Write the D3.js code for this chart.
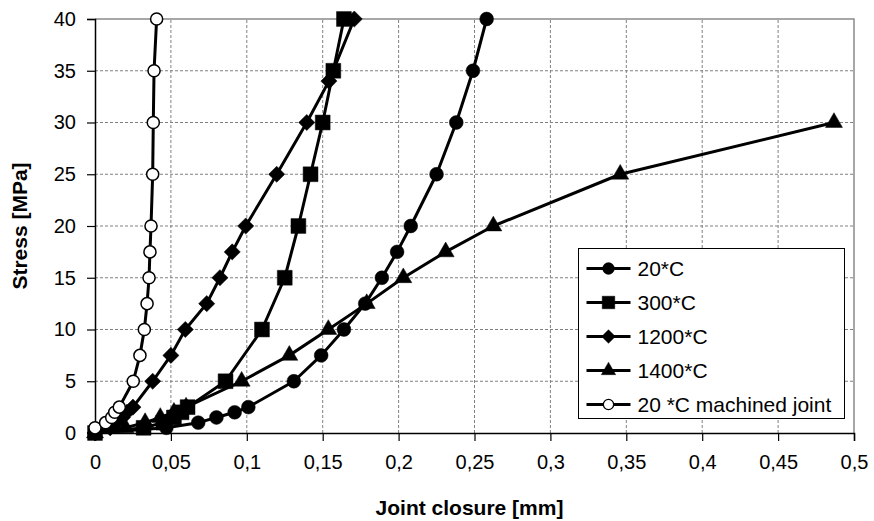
<!DOCTYPE html>
<html>
<head>
<meta charset="utf-8">
<script src="https://cdn.jsdelivr.net/npm/d3@7"></script>
<style>
  body { margin: 0; background: #fff; }
  text { font-family: "Liberation Sans", Arial, sans-serif; }
</style>
</head>
<body>
<div id="chart"></div>
<script>
// Data: stress [MPa] vs joint closure [mm]
var stress20 = [0, 0.5, 1, 1.5, 2, 2.5, 5, 7.5, 10, 12.5, 15, 17.5, 20, 25, 30, 35, 40];
var closure20 = [0, 0.047, 0.068, 0.080, 0.092, 0.101, 0.131, 0.149, 0.164, 0.178, 0.189, 0.199, 0.208, 0.225, 0.238, 0.249, 0.258];

var stress300 = [0, 0.5, 1, 1.5, 2, 2.5, 5, 10, 15, 20, 25, 30, 35, 40];
var closure300 = [0, 0.032, 0.045, 0.052, 0.057, 0.061, 0.086, 0.110, 0.125, 0.134, 0.142, 0.150, 0.157, 0.164];

var stress1200 = [0, 0.5, 1, 1.5, 2, 2.5, 5, 7.5, 10, 12.5, 15, 17.5, 20, 25, 30, 34, 40];
var closure1200 = [0, 0.010, 0.014, 0.018, 0.021, 0.025, 0.038, 0.050, 0.0595, 0.0736, 0.0823, 0.0904, 0.0993, 0.1197, 0.1395, 0.1541, 0.1708];

var stress1400 = [0, 0.5, 1, 1.5, 2, 2.5, 5, 7.5, 10, 12.5, 15, 17.5, 20, 25, 30];
var closure1400 = [0, 0.020, 0.033, 0.043, 0.052, 0.060, 0.0966, 0.128, 0.1537, 0.179, 0.2031, 0.231, 0.2624, 0.346, 0.4868];

var stressMach = [0.5, 1, 1.5, 2, 2.5, 5, 7.5, 10, 12.5, 15, 17.5, 20, 25, 30, 35, 40];
var closureMach = [0, 0.007, 0.011, 0.013, 0.016, 0.0252, 0.0296, 0.0325, 0.0343, 0.0356, 0.0362, 0.0369, 0.038, 0.0384, 0.0389, 0.0406];

var seriesNames = ["20*C", "300*C", "1200*C", "1400*C", "20 *C machined joint"];
var xTicks = [0, 0.05, 0.1, 0.15, 0.2, 0.25, 0.3, 0.35, 0.4, 0.45, 0.5];
var yTicks = [0, 5, 10, 15, 20, 25, 30, 35, 40];

var width = 874;
var height = 521;
var margin = { top: 19, right: 20, bottom: 88, left: 95 };

var svg = d3.select("#chart")
    .append("svg")
    .attr("width", width)
    .attr("height", height);

svg.append("rect").attr("width", width).attr("height", height).attr("fill", "#fff");

var x = d3.scaleLinear()
    .domain([0, 0.5])
    .range([margin.left, width - margin.right]);

var y = d3.scaleLinear()
    .domain([0, 40])
    .range([height - margin.bottom, margin.top]);

var comma = d3.formatLocale({ decimal: ",", thousands: ".", grouping: [3], currency: ["", ""] }).format("~g");

// gridlines (dashed grey)
svg.append("g")
    .selectAll("line")
    .data(xTicks.slice(1, -1))
    .enter().append("line")
    .attr("x1", function(d) { return x(d); })
    .attr("x2", function(d) { return x(d); })
    .attr("y1", y(0))
    .attr("y2", y(40))
    .attr("stroke", "#808080")
    .attr("stroke-width", 1)
    .attr("stroke-dasharray", "3,2");

svg.append("g")
    .selectAll("line")
    .data(yTicks.slice(1, -1))
    .enter().append("line")
    .attr("x1", x(0))
    .attr("x2", x(0.5))
    .attr("y1", function(d) { return y(d); })
    .attr("y2", function(d) { return y(d); })
    .attr("stroke", "#808080")
    .attr("stroke-width", 1)
    .attr("stroke-dasharray", "3,2");

// plot area border top/right (solid grey)
svg.append("path")
    .attr("d", "M" + x(0) + "," + y(40) + "H" + x(0.5) + "V" + y(0))
    .attr("fill", "none")
    .attr("stroke", "#8a8a8a")
    .attr("stroke-width", 1.5);

// axes
var xAxis = svg.append("g")
    .attr("transform", "translate(0," + y(0) + ")")
    .call(d3.axisBottom(x).tickValues(xTicks).tickFormat(comma).tickSize(8).tickPadding(14));

var yAxis = svg.append("g")
    .attr("transform", "translate(" + x(0) + ",0)")
    .call(d3.axisLeft(y).tickValues(yTicks).tickSize(8).tickPadding(11));

[xAxis, yAxis].forEach(function(g) {
    g.select(".domain").attr("stroke", "#000").attr("stroke-width", 1.5);
    g.selectAll(".tick line").attr("stroke", "#000").attr("stroke-width", 1.2);
    g.selectAll(".tick text")
        .attr("fill", "#000")
        .style("font-size", "20px")
        .style("font-family", "'Liberation Sans', Arial, sans-serif");
});

// axis titles
svg.append("text")
    .attr("x", (x(0) + x(0.5)) / 2 - 5)
    .attr("y", 515)
    .attr("text-anchor", "middle")
    .style("font-size", "21px")
    .style("font-weight", "bold")
    .text("Joint closure [mm]");

svg.append("text")
    .attr("transform", "translate(27," + ((y(0) + y(40)) / 2) + ") rotate(-90)")
    .attr("text-anchor", "middle")
    .style("font-size", "21px")
    .style("font-weight", "bold")
    .text("Stress [MPa]");

// marker shapes
var sym = {
    circle: d3.symbol().type(d3.symbolCircle).size(150)(),
    square: d3.symbol().type(d3.symbolSquare).size(220)(),
    diamond: d3.symbol().type(d3.symbolSquare).size(130)(),
    triangle: d3.symbol().type(d3.symbolTriangle).size(125)(),
    open: d3.symbol().type(d3.symbolCircle).size(115)()
};

var series = [
    { name: seriesNames[0], xs: closure20, ys: stress20, shape: "circle", fill: "#000", rot: 0 },
    { name: seriesNames[1], xs: closure300, ys: stress300, shape: "square", fill: "#000", rot: 0 },
    { name: seriesNames[2], xs: closure1200, ys: stress1200, shape: "diamond", fill: "#000", rot: 45 },
    { name: seriesNames[3], xs: closure1400, ys: stress1400, shape: "triangle", fill: "#000", rot: 0 },
    { name: seriesNames[4], xs: closureMach, ys: stressMach, shape: "open", fill: "#fff", rot: 0 }
];

var line = d3.line()
    .x(function(d) { return x(d[0]); })
    .y(function(d) { return y(d[1]); });

series.forEach(function(s) {
    var pts = s.xs.map(function(v, i) { return [v, s.ys[i]]; });
    var g = svg.append("g");
    g.append("path")
        .attr("d", line(pts))
        .attr("fill", "none")
        .attr("stroke", "#000")
        .attr("stroke-width", 3)
        .attr("stroke-linejoin", "round");
    g.selectAll(".m")
        .data(pts)
        .enter().append("path")
        .attr("class", "m")
        .attr("d", sym[s.shape])
        .attr("transform", function(d) { return "translate(" + x(d[0]) + "," + y(d[1]) + ") rotate(" + s.rot + ")"; })
        .attr("fill", s.fill)
        .attr("stroke", "#000")
        .attr("stroke-width", s.shape === "open" ? 1.5 : 0.5);
});

// legend
var legend = svg.append("g").attr("transform", "translate(578.5,248.5)");
legend.append("rect")
    .attr("width", 266)
    .attr("height", 170)
    .attr("fill", "#fff")
    .attr("stroke", "#000")
    .attr("stroke-width", 1);

series.forEach(function(s, i) {
    var ly = 20 + i * 34;
    legend.append("line")
        .attr("x1", 8).attr("x2", 52)
        .attr("y1", ly).attr("y2", ly)
        .attr("stroke", "#000").attr("stroke-width", 3);
    legend.append("path")
        .attr("d", sym[s.shape])
        .attr("transform", "translate(30," + ly + ") rotate(" + s.rot + ") scale(0.85)")
        .attr("fill", s.fill)
        .attr("stroke", "#000")
        .attr("stroke-width", s.shape === "open" ? 1.5 : 0.5);
    legend.append("text")
        .attr("x", 59)
        .attr("y", ly)
        .attr("dy", "0.36em")
        .style("font-size", "21px")
        .text(s.name);
});
</script>
</body>
</html>
